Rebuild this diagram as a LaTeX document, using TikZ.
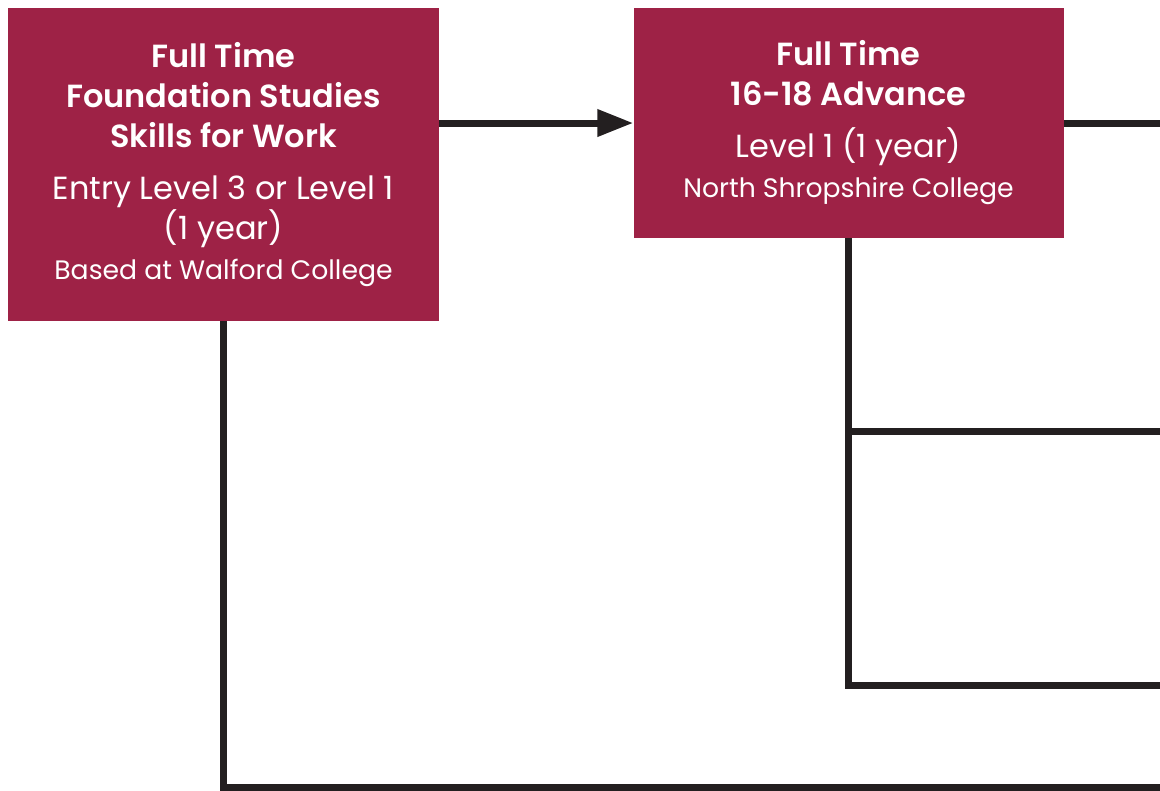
\documentclass[tikz,border=0pt]{standalone}
\usepackage{fontspec}
\setmainfont{Poppins}[BoldFont={Poppins SemiBold}]
\usetikzlibrary{positioning}
\usetikzlibrary{arrows.meta}
\definecolor{crimson}{HTML}{9E2246}
\definecolor{inkgrey}{HTML}{231F20}
\tikzstyle{course}=[rectangle,fill=crimson,text=white,align=center,inner sep=0pt,
    font=\fontsize{24}{30}\selectfont]
\tikzstyle{route}=[draw=inkgrey,line width=5.25pt]
\tikzstyle{arrowroute}=[route,-{Triangle[length=27pt,width=19.5pt]}]
\newcommand{\headfont}{\fontsize{24}{30}\selectfont\bfseries}
\newcommand{\levelfont}{\fontsize{24}{30}\selectfont\mdseries}
\newcommand{\placefont}{\fontsize{20}{30}\selectfont\mdseries}

\begin{document}
\begin{tikzpicture}[x=0.75pt,y=-0.75pt]
    \useasboundingbox (0,0) rectangle (1160,790);
    % First we draw the two course boxes
    \node[course, minimum width=323.25pt, minimum height=234.75pt] (found) at (223.5,164.5)
        {\headfont Full Time\\\headfont Foundation Studies\\\headfont Skills for Work\\[9pt]
         \levelfont Entry Level 3 or Level 1\\\levelfont (1 year)\\
         \placefont Based at Walford College};
    \node[course, minimum width=322.5pt, minimum height=172.5pt,
          right=145.5pt of found.north east, anchor=north west] (adv)
        {\headfont Full Time\\\headfont 16-18 Advance\\[9pt]
         \levelfont Level 1 (1 year)\\
         \placefont North Shropshire College};

    % Free ends of the routes leave the picture on the right
    \foreach \ypos/\name in {123/topend, 431/midend, 685/lowend, 787/botend}
        \coordinate (\name) at (1170,\ypos);

    % Then we connect them
    \draw[arrowroute] (found.east |- adv.east) -- (adv.west);
    \draw[route] (adv.east) -- (topend);
    \draw[route] (adv.south) |- (lowend);
    \draw[route] (adv.south |- midend) -- (midend);
    \draw[route] (found.south) |- (botend);
\end{tikzpicture}
\end{document}
